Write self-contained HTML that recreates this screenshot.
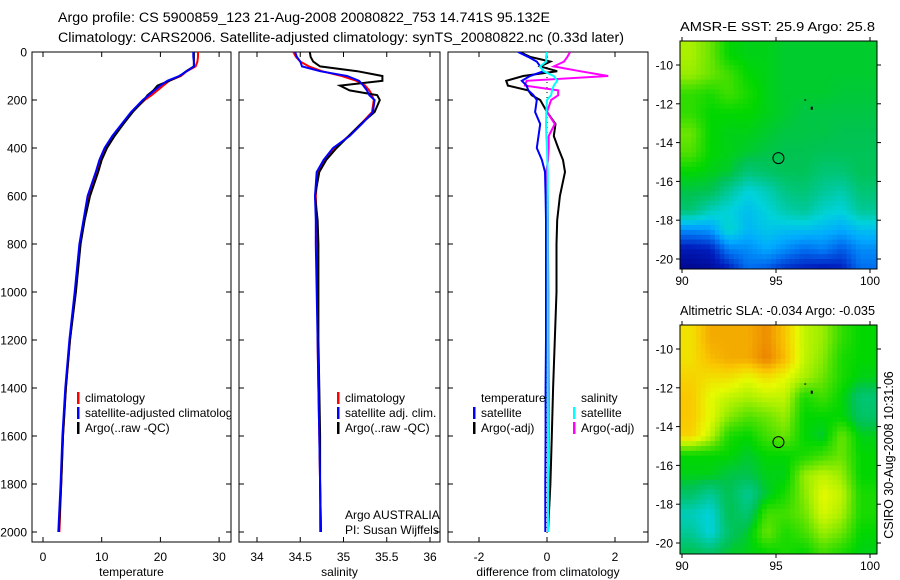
<!DOCTYPE html>
<html><head><meta charset="utf-8"><style>
body{margin:0;background:#fff;}
svg{display:block;font-family:"Liberation Sans",sans-serif;}
</style></head><body>
<svg id="chart" width="900" height="580" viewBox="0 0 900 580" xmlns="http://www.w3.org/2000/svg">
<defs>
<clipPath id="c1"><rect x="32" y="52" width="199" height="490"/></clipPath>
<clipPath id="c2"><rect x="239" y="52" width="201" height="490"/></clipPath>
<clipPath id="c3"><rect x="448" y="52" width="200" height="490"/></clipPath>
<clipPath id="m1"><rect x="680" y="41" width="197" height="228"/></clipPath>
<clipPath id="m2"><rect x="680" y="325" width="197" height="229"/></clipPath>
</defs>
<text x="58" y="22" font-size="13.5" textLength="492" lengthAdjust="spacingAndGlyphs">Argo profile: CS 5900859_123 21-Aug-2008 20080822_753 14.741S 95.132E</text>
<text x="58" y="42" font-size="13.5" textLength="566" lengthAdjust="spacingAndGlyphs">Climatology: CARS2006. Satellite-adjusted climatology: synTS_20080822.nc (0.33d later)</text>
<text x="680" y="31" font-size="12.5" textLength="195" lengthAdjust="spacingAndGlyphs">AMSR-E SST: 25.9 Argo: 25.8</text>
<text x="680" y="315" font-size="12.5" textLength="195" lengthAdjust="spacingAndGlyphs">Altimetric SLA: -0.034 Argo: -0.035</text>
<text transform="translate(893,455) rotate(-90)" font-size="12.5" text-anchor="middle">CSIRO 30-Aug-2008 10:31:06</text>
<g id="g"></g>
</svg>
<script>
// profile data
const depths=[0,20,40,60,80,100,120,140,160,180,200,250,300,350,400,450,500,600,700,800,1000,1200,1400,1600,1800,2000];
const tempClim=[26.4,26.4,26.3,26,24.5,23.5,21.5,20.5,19.5,18.5,17.3,15.2,13.6,12,10.7,9.8,9.2,7.8,7,6.3,5.5,4.6,3.9,3.4,3.1,2.8];
const tempSat=[25.6,25.6,25.7,25.7,24.5,23.2,21.2,20,19,18,17,15,13.4,11.8,10.5,9.6,9,7.6,6.9,6.2,5.4,4.5,3.8,3.3,3,2.6];
const tempArgo=[25.7,25.7,25.7,25.7,24.4,23.3,21.5,19.5,18.8,17.8,17.2,15.3,13.7,12.2,10.9,10,9.4,8,7.1,6.4,5.6,4.6,3.9,3.4,3.1,2.7];
const salClim=[34.42,34.45,34.5,34.6,34.75,34.98,35.15,35.25,35.3,35.33,35.35,35.33,35.2,35.06,34.9,34.78,34.7,34.68,34.69,34.7,34.7,34.7,34.71,34.72,34.73,34.73];
const salSat=[34.44,34.46,34.5,34.52,34.73,35.04,35.18,35.23,35.27,35.3,35.36,35.34,35.21,35.07,34.88,34.77,34.69,34.67,34.68,34.68,34.69,34.7,34.71,34.72,34.73,34.74];
const salArgo=[34.61,34.62,34.65,34.73,35.16,35.45,35.45,34.96,35.07,35.39,35.42,35.36,35.2,35.06,34.92,34.8,34.72,34.67,34.7,34.71,34.71,34.71,34.72,34.73,34.73,34.74];
const dTempSat=[-0.85,-0.56,-0.3,-0.2,-0.1,-0.5,-0.74,-0.6,-0.55,-0.4,-0.3,-0.35,-0.2,-0.25,-0.3,-0.15,-0.06,-0.04,-0.03,-0.03,-0.03,-0.03,-0.04,-0.04,-0.05,-0.05];
const dTempArgo=[-0.8,-0.5,0.1,-0.2,0.3,-0.7,-1.2,-1.15,-0.55,-0.45,-0.2,0,0.25,0.2,0.33,0.47,0.53,0.38,0.3,0.28,0.28,0.23,0.18,0.14,0.1,0.03];
const dSalSat=[0,-0.03,-0.02,-0.2,-0.1,0.2,0.3,0.2,0.15,0.12,0,-0.02,-0.03,-0.02,0,0.01,0.02,0.02,0.02,0.02,0.02,0.02,0.02,0.03,0.03,0.03];
const dSalArgo=[0.68,0.6,0.5,0.2,0.97,1.8,-0.6,-0.65,0.33,0.33,0.12,0,0.23,0.05,0.05,0.03,-0.02,0.02,0.03,0.03,0.04,0.04,0.05,0.05,0.04,0.03];
const depthTicks=[0,200,400,600,800,1000,1200,1400,1600,1800,2000];
const tempTicks=[0,10,20,30];
const salTicks=[34,34.5,35,35.5,36];
const diffTicks=[-2,0,2];
const lonTicks=[90,95,100];
const latTicks=[-10,-12,-14,-16,-18,-20];
// map data (rows lat -9 .. -20, cols lon 90..99, 1 degree cells)
const sstGrid=[
[0.92,0.85,0.72,0.7,0.7,0.68,0.68,0.68,0.68,0.68],
[0.9,0.85,0.8,0.72,0.7,0.68,0.68,0.68,0.68,0.68],
[0.78,0.75,0.8,0.75,0.7,0.68,0.68,0.68,0.67,0.67],
[0.78,0.72,0.72,0.72,0.7,0.68,0.66,0.66,0.66,0.66],
[0.85,0.72,0.7,0.7,0.68,0.66,0.66,0.66,0.65,0.65],
[0.82,0.72,0.7,0.68,0.66,0.65,0.65,0.64,0.64,0.64],
[0.72,0.7,0.68,0.6,0.62,0.64,0.64,0.6,0.6,0.64],
[0.66,0.65,0.55,0.45,0.5,0.58,0.6,0.55,0.52,0.6],
[0.6,0.5,0.45,0.4,0.45,0.52,0.55,0.48,0.45,0.55],
[0.3,0.32,0.48,0.38,0.42,0.4,0.4,0.38,0.35,0.4],
[0.1,0.12,0.28,0.3,0.35,0.3,0.25,0.28,0.22,0.3],
[0.03,0.05,0.12,0.25,0.22,0.15,0.12,0.1,0.12,0.25]];
const slaGrid=[
[1.05,1.15,1.15,1.15,1.2,1.1,0.95,0.9,0.78,0.72],
[1.05,1.12,1.15,1.15,1.22,1.12,0.95,0.88,0.75,0.72],
[1.08,1.05,1.05,1.0,1.05,1.0,0.92,0.85,0.75,0.7],
[1.1,1.0,0.95,0.92,0.95,0.95,0.75,0.8,0.72,0.6],
[1.1,1.0,0.88,0.82,0.85,0.9,0.72,0.72,0.72,0.62],
[1.08,0.95,0.75,0.72,0.8,0.85,0.72,0.68,0.85,0.7],
[0.72,0.72,0.72,0.68,0.72,0.72,0.75,0.8,0.85,0.72],
[0.7,0.7,0.66,0.65,0.7,0.7,0.9,0.95,0.9,0.72],
[0.62,0.55,0.65,0.55,0.68,0.75,0.88,1.0,0.95,0.75],
[0.5,0.45,0.65,0.6,0.8,0.8,0.85,0.98,0.92,0.75],
[0.55,0.45,0.62,0.68,0.85,0.75,0.8,0.9,0.85,0.72],
[0.65,0.62,0.68,0.7,0.72,0.75,0.72,0.8,0.75,0.7]];
const gridLat0=-9, gridLon0=90;
const argoLon=95.13, argoLat=-14.8;

const NS="http://www.w3.org/2000/svg";
const G=document.getElementById('g');
function mk(tag,attrs,parent,txt){const e=document.createElementNS(NS,tag);for(const k in attrs)e.setAttribute(k,attrs[k]);if(txt!==undefined)e.textContent=txt;(parent||G).appendChild(e);return e;}
const yD=d=>52+d*0.24;
const panels=[
 {x0:32,x1:231,clip:'c1',xs:v=>43+5.87*v,ticks:tempTicks,label:'temperature',name:'temperature'},
 {x0:239,x1:440,clip:'c2',xs:v=>257+86.5*(v-34),ticks:salTicks,label:'salinity',name:'salinity'},
 {x0:448,x1:648,clip:'c3',xs:v=>547+34*v,ticks:diffTicks,label:'difference from climatology',name:'difference'}];
panels.forEach((p,i)=>{
 const f=mk('rect',{x:p.x0,y:52,width:p.x1-p.x0,height:490,fill:'none',stroke:'#000','stroke-width':1});
 
 
 depthTicks.forEach(d=>{
  mk('line',{x1:p.x0,x2:p.x0+5,y1:yD(d),y2:yD(d),stroke:'#000'});
  mk('line',{x1:p.x1,x2:p.x1-5,y1:yD(d),y2:yD(d),stroke:'#000'});
  if(i===0){const t=mk('text',{x:27,y:yD(d)+4.5,'font-size':12,'text-anchor':'end'},G,String(d));
   
   }
 });
 p.ticks.forEach(v=>{const x=p.xs(v);
  mk('line',{x1:x,x2:x,y1:52,y2:57,stroke:'#000'});
  mk('line',{x1:x,x2:x,y1:542,y2:537,stroke:'#000'});
  const t=mk('text',{x:x,y:561,'font-size':12,'text-anchor':'middle'},G,String(v));
  
  
 });
 const l=mk('text',{x:(p.x0+p.x1)/2,y:576,'font-size':12,'text-anchor':'middle'},G,p.label);
 
 
});
function line(vals,p,color,w,name){
 const pts=vals.map((v,k)=>p.xs(v).toFixed(1)+','+yD(depths[k]).toFixed(1)).join(' ');
 const e=mk('polyline',{points:pts,fill:'none',stroke:color,'stroke-width':w,'clip-path':'url(#'+p.clip+')'});
 
 
}
line(tempClim,panels[0],'#f00',2,'temperature-climatology-line');
line(tempArgo,panels[0],'#000',2,'temperature-argo-line');
line(tempSat,panels[0],'#00f',2,'temperature-satellite-line');
line(salClim,panels[1],'#f00',2,'salinity-climatology-line');
line(salArgo,panels[1],'#000',2,'salinity-argo-line');
line(salSat,panels[1],'#00f',2,'salinity-satellite-line');
mk('line',{x1:panels[2].xs(0),x2:panels[2].xs(0),y1:52,y2:542,stroke:'#000','stroke-dasharray':'1,4'});
line(dTempArgo,panels[2],'#000',2,'diff-temperature-argo-line');
line(dSalArgo,panels[2],'#f0f',2,'diff-salinity-argo-line');
line(dTempSat,panels[2],'#00f',2,'diff-temperature-satellite-line');
line(dSalSat,panels[2],'#0ff',2,'diff-salinity-satellite-line');
function legend(x,y,items,clip,name){
 const g=mk('g',{'clip-path':'url(#'+clip+')'});
 
 
 items.forEach((it,k)=>{const yy=y+k*15;
  if(it[1])mk('rect',{x:x,y:yy-10,width:2.5,height:12,fill:it[1]},g);
  mk('text',{x:x+8,y:yy,'font-size':12},g,it[0]);});
}
legend(77,402,[['climatology','#f00'],['satellite-adjusted climatology','#00f'],['Argo(..raw -QC)','#000']],'c1','temperature-legend');
legend(337,402,[['climatology','#f00'],['satellite adj. clim.','#00f'],['Argo(..raw -QC)','#000']],'c2','salinity-legend');
legend(473,402,[['temperature',null],['satellite','#00f'],['Argo(-adj)','#000']],'c3','diff-temperature-legend');
legend(573,402,[['salinity',null],['satellite','#0ff'],['Argo(-adj)','#f0f']],'c3','diff-salinity-legend');
const t1=mk('text',{x:345,y:519,'font-size':12},G,'Argo AUSTRALIA');


const t2=mk('text',{x:345,y:534,'font-size':12},G,'PI: Susan Wijffels');



// colormap
const cstops=[[0,[0,0,130]],[0.12,[0,30,190]],[0.25,[0,110,240]],[0.35,[0,170,255]],[0.45,[0,210,220]],[0.55,[0,200,150]],[0.65,[0,195,80]],[0.72,[0,215,0]],[0.82,[80,225,0]],[0.92,[170,240,0]],[1.0,[230,250,0]],[1.1,[250,200,0]],[1.22,[235,130,0]]];
function cmap(v){if(v<=0)return 'rgb(0,0,130)';for(let k=1;k<cstops.length;k++){if(v<=cstops[k][0]){const a=cstops[k-1],b=cstops[k],t=(v-a[0])/(b[0]-a[0]);return 'rgb('+a[1].map((c,j)=>Math.round(c+(b[1][j]-c)*t)).join(',')+')';}}return 'rgb(235,130,0)';}
function sample(grid,lat,lon){
 const nr=grid.length,nc=grid[0].length;
 const fr=Math.max(0,Math.min(nr-1,(gridLat0-lat)-0.5));
 const fc=Math.max(0,Math.min(nc-1,(lon-gridLon0)-0.5));
 const r0=Math.floor(fr),c0=Math.floor(fc),r1=Math.min(nr-1,r0+1),c1=Math.min(nc-1,c0+1);
 const tr=fr-r0,tc=fc-c0;
 return (grid[r0][c0]*(1-tc)+grid[r0][c1]*tc)*(1-tr)+(grid[r1][c0]*(1-tc)+grid[r1][c1]*tc)*tr;
}
function map(y0,y1,grid,name,clip){
 const lx=lon=>682+18.8*(lon-90);
 const ly=lat=>(y0+24)+19.4*(-10-lat);
 const gm=mk('g',{'clip-path':'url(#'+clip+')'});
 
 
 const st=0.25;
 for(let lat=-8.5;lat>-21;lat-=st)for(let lon=89.75;lon<100.6;lon+=st){
  const v=sample(grid,lat-st/2,lon+st/2);
  mk('rect',{x:lx(lon).toFixed(1),y:ly(lat).toFixed(1),width:(18.8*st+0.6).toFixed(1),height:(19.4*st+0.6).toFixed(1),fill:cmap(v)},gm);
 }
 mk('rect',{x:680,y:y0,width:197,height:y1-y0,fill:'none',stroke:'#000'});
 lonTicks.forEach(lon=>{const x=lx(lon);
  mk('line',{x1:x,x2:x,y1:y0,y2:y0-4,stroke:'#000'});mk('line',{x1:x,x2:x,y1:y1,y2:y1+4,stroke:'#000'});
  const t=mk('text',{x:x,y:y1+16,'font-size':12,'text-anchor':'middle'},G,String(lon));
  
  });
 latTicks.forEach(lat=>{const y=ly(lat);
  mk('line',{x1:680,x2:676,y1:y,y2:y,stroke:'#000'});mk('line',{x1:877,x2:881,y1:y,y2:y,stroke:'#000'});
  const t=mk('text',{x:673,y:y+4.5,'font-size':12,'text-anchor':'end'},G,String(lat));
  
  });
 const c=mk('circle',{cx:lx(argoLon),cy:ly(argoLat),r:5.5,fill:'none',stroke:'#000'});
 
 
 mk('rect',{x:lx(96.5),y:ly(-11.78),width:2,height:1,fill:'#000'});
 mk('rect',{x:lx(96.85),y:ly(-12.15),width:2,height:3,fill:'#000'});
}
map(41,269,sstGrid,'sst-map','m1');
map(325,554,slaGrid,'sla-map','m2');
</script>
</body></html>
